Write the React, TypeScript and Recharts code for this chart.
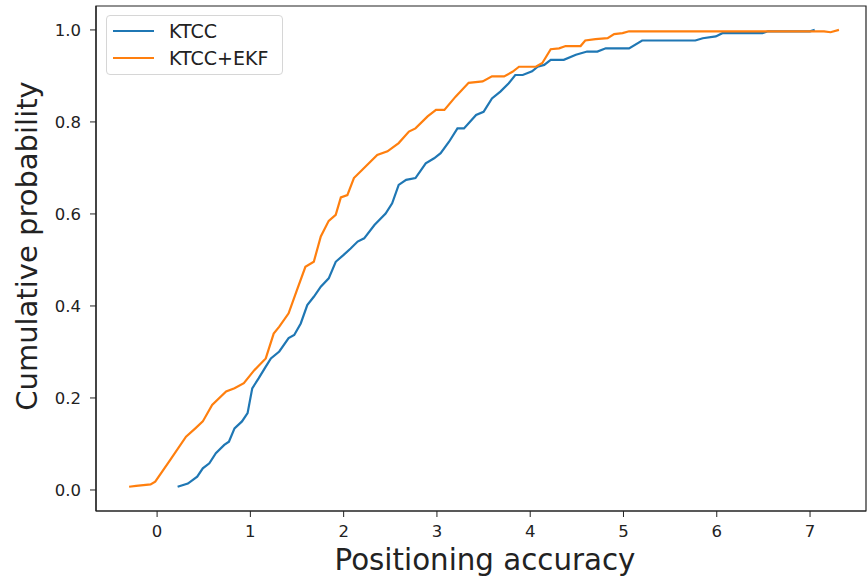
import { LineChart, Line, XAxis, YAxis, Legend, Label, ReferenceArea } from "recharts";

// KTCC
const ktccX = [
  0.22, 0.33, 0.43, 0.49, 0.56, 0.63, 0.72, 0.77, 0.83, 0.91, 0.97, 1.02, 1.09, 1.165, 1.22, 1.31,
  1.41, 1.47, 1.54, 1.61, 1.68, 1.755, 1.84, 1.915, 2.0, 2.075, 2.15, 2.22, 2.33, 2.45, 2.52, 2.59,
  2.67, 2.77, 2.88, 2.97, 3.04, 3.13, 3.22, 3.29, 3.42, 3.5, 3.59, 3.68, 3.77, 3.84, 3.92, 4.02,
  4.08, 4.15, 4.22, 4.36, 4.49, 4.61, 4.72, 4.81, 5.06, 5.2, 5.77, 5.85, 5.99, 6.06, 6.49, 6.55,
  7.0, 7.05,
];
const ktccY = [
  0.007, 0.014, 0.029, 0.047, 0.058, 0.08, 0.098, 0.105, 0.134, 0.149, 0.167, 0.221, 0.243, 0.268, 0.286, 0.301,
  0.33, 0.337, 0.362, 0.402, 0.42, 0.442, 0.46, 0.496, 0.511, 0.525, 0.54, 0.547, 0.576, 0.601, 0.623, 0.663,
  0.674, 0.678, 0.71, 0.721, 0.732, 0.757, 0.786, 0.786, 0.815, 0.822, 0.851, 0.866, 0.884, 0.902, 0.902, 0.91,
  0.92, 0.924, 0.935, 0.935, 0.946, 0.953, 0.953, 0.96, 0.96, 0.977, 0.977, 0.982, 0.986, 0.993, 0.993, 0.997,
  0.997, 1.0,
];

// KTCC+EKF
const ekfX = [
  -0.3, -0.225, -0.07, -0.02, 0.13, 0.31, 0.41, 0.49, 0.59, 0.74, 0.83, 0.93, 1.04, 1.165, 1.25, 1.31,
  1.41, 1.5, 1.59, 1.68, 1.755, 1.84, 1.915, 1.97, 2.04, 2.11, 2.2, 2.36, 2.47, 2.59, 2.7, 2.77,
  2.9, 2.99, 3.08, 3.2, 3.34, 3.49, 3.59, 3.72, 3.81, 3.88, 4.06, 4.13, 4.22, 4.31, 4.38, 4.54,
  4.59, 4.7, 4.83, 4.9, 4.99, 5.06, 7.15, 7.22, 7.31,
];
const ekfY = [
  0.007, 0.009, 0.012, 0.018, 0.062, 0.116, 0.134, 0.149, 0.185, 0.214, 0.221, 0.232, 0.26, 0.286, 0.34, 0.355,
  0.384, 0.435, 0.485, 0.496, 0.551, 0.585, 0.598, 0.636, 0.641, 0.678, 0.696, 0.728, 0.736, 0.754, 0.779, 0.786,
  0.812, 0.826, 0.826, 0.855, 0.885, 0.888, 0.899, 0.899, 0.909, 0.92, 0.92, 0.928, 0.958, 0.96, 0.965, 0.965,
  0.977, 0.98, 0.982, 0.991, 0.993, 0.997, 0.997, 0.995, 1.0,
];

const xTicks = [0, 1, 2, 3, 4, 5, 6, 7];
const yTicks = [0, 0.2, 0.4, 0.6, 0.8, 1.0];

const X_DOMAIN: [number, number] = [-0.655, 7.6];
const Y_DOMAIN: [number, number] = [-0.0457, 1.052];

const BLUE = "#1f77b4";
const ORANGE = "#ff7f0e";
const FONT = "'DejaVu Sans', Verdana, sans-serif";

const ktccData = ktccX.map((x, i) => ({ x, y: ktccY[i] }));
const ekfData = ekfX.map((x, i) => ({ x, y: ekfY[i] }));

function LegendBox() {
  const items = [
    { name: "KTCC", color: BLUE },
    { name: "KTCC+EKF", color: ORANGE },
  ];
  return (
    <div
      style={{
        width: 175,
        height: 58,
        border: "1px solid #d6d6d6",
        borderRadius: 4,
        background: "rgba(255,255,255,0.8)",
        fontFamily: FONT,
        fontSize: 19,
        color: "#222",
        boxSizing: "content-box",
      }}
    >
      {items.map((it, i) => (
        <div
          key={it.name}
          style={{ position: "absolute", left: 0, top: 5 + i * 26.5, height: 22, display: "flex", alignItems: "center" }}
        >
          <div style={{ marginLeft: 7, width: 41, height: 2, background: it.color }} />
          <span style={{ marginLeft: 15, whiteSpace: "nowrap" }}>{it.name}</span>
        </div>
      ))}
    </div>
  );
}

export default function App() {
  return (
    <div style={{ position: "absolute", left: 0, top: 0, width: 867, height: 580, background: "#fff" }}>
      <LineChart width={867} height={580} margin={{ top: 6, right: 1, left: 0, bottom: 0 }}>
        <XAxis
          type="number"
          dataKey="x"
          domain={X_DOMAIN}
          ticks={xTicks}
          allowDataOverflow
          height={69}
          tickSize={6}
          tickMargin={8}
          tick={{ fontSize: 16.5, fill: "#222", fontFamily: FONT }}
          tickLine={{ stroke: "#222" }}
          axisLine={{ stroke: "#222", strokeWidth: 1.2 }}
        >
          <Label
            content={() => (
              <text x={485} y={570} textAnchor="middle" fontSize={29.3} fill="#222" fontFamily={FONT}>
                Positioning accuracy
              </text>
            )}
          />
        </XAxis>
        <YAxis
          type="number"
          dataKey="y"
          domain={Y_DOMAIN}
          ticks={yTicks}
          allowDataOverflow
          width={96}
          tickSize={6}
          tickMargin={9}
          tickFormatter={(v: number) => v.toFixed(1)}
          tick={{ fontSize: 16.5, fill: "#222", fontFamily: FONT }}
          tickLine={{ stroke: "#222" }}
          axisLine={{ stroke: "#222", strokeWidth: 1.2 }}
        >
          <Label
            content={() => (
              <text
                x={27}
                y={246}
                transform="rotate(-90 27 246)"
                textAnchor="middle"
                dominantBaseline="central"
                fontSize={29}
                fill="#222"
                fontFamily={FONT}
              >
                Cumulative probability
              </text>
            )}
          />
        </YAxis>
        <ReferenceArea
          x1={X_DOMAIN[0]}
          x2={X_DOMAIN[1]}
          y1={Y_DOMAIN[0]}
          y2={Y_DOMAIN[1]}
          fill="none"
          stroke="#222"
          strokeWidth={1.2}
          ifOverflow="visible"
        />
        <Line
          data={ktccData}
          dataKey="y"
          name="KTCC"
          type="linear"
          stroke={BLUE}
          strokeWidth={2.2}
          dot={false}
          isAnimationActive={false}
        />
        <Line
          data={ekfData}
          dataKey="y"
          name="KTCC+EKF"
          type="linear"
          stroke={ORANGE}
          strokeWidth={2.2}
          dot={false}
          isAnimationActive={false}
        />
        <Legend
          layout="vertical"
          align="center"
          verticalAlign="middle"
          wrapperStyle={{ position: "absolute", left: 106, top: 15, width: 177, height: 60 }}
          content={() => <LegendBox />}
        />
      </LineChart>
    </div>
  );
}
